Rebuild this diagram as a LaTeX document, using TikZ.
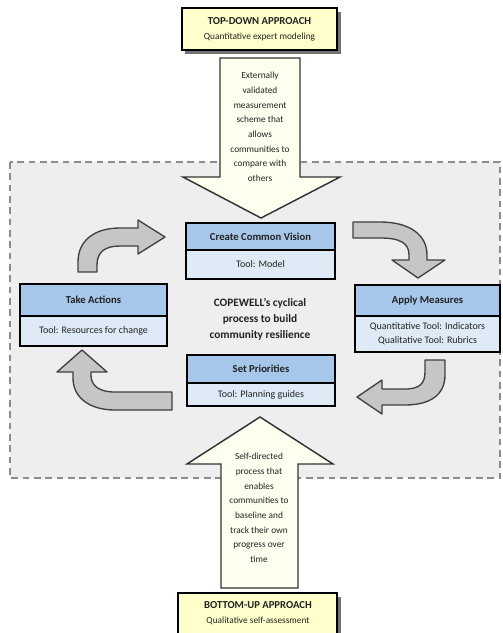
\documentclass[tikz,border=0pt]{standalone}
\usepackage{fontspec}
\setmainfont{Carlito}
\definecolor{regionfill}{HTML}{EEEEEE}
\definecolor{regionline}{HTML}{8C8C8C}
\definecolor{approachfill}{HTML}{FFFFCC}
\definecolor{bigarrowfill}{HTML}{FFFFF0}
\definecolor{hdrblue}{HTML}{A6C6EA}
\definecolor{bodyblue}{HTML}{DEEBF7}
\definecolor{cyclegray}{HTML}{C6C6C6}
\definecolor{txt}{HTML}{222222}
\begin{document}
\begin{tikzpicture}[x=0.75pt,y=-0.75pt,
  region/.style={fill=regionfill,draw=regionline,dashed,line width=1.1pt,dash pattern=on 5pt off 3.5pt},
  approachbox/.style={fill=approachfill,draw=black,line width=2.1pt},
  shadowbox/.style={fill=black!55},
  bigarrow/.style={fill=bigarrowfill,draw=black!80,line width=1.1pt,line join=miter},
  cyclearrow/.style={fill=cyclegray,draw=black!75,line width=1pt,line join=round},
  hdr/.style={fill=hdrblue},
  bdy/.style={fill=bodyblue},
  boxline/.style={draw=black,line width=1.8pt},
  divline/.style={draw=black,line width=1.1pt},
  arrowtext/.style={font=\fontsize{7}{11}\selectfont,align=center,inner sep=0pt,text=txt},
  hdrtext/.style={font=\fontsize{8}{10}\selectfont\bfseries,inner sep=0pt,text=txt},
  bodytext/.style={font=\fontsize{7.5}{10.5}\selectfont,align=center,inner sep=0pt,text=txt},
  apptitle/.style={font=\fontsize{8}{10}\selectfont\bfseries,inner sep=0pt,text=txt},
  appsub/.style={font=\fontsize{7}{9}\selectfont,inner sep=0pt,text=txt},
  centertext/.style={font=\fontsize{8.5}{12}\selectfont\bfseries,align=center,inner sep=0pt,text=txt}]
\clip (0,0) rectangle (503,633);
\fill[white] (0,0) rectangle (503,633);

% dashed region
\draw[region] (10,162) rectangle (500,478);

% top approach box
\fill[shadowbox] (185,12) rectangle (341,54);
\draw[approachbox] (182,8) rectangle (337,50);
\node[apptitle] (topT) at (259.5,21) {TOP-DOWN APPROACH};
\node[appsub] (topS) at (259.5,37) {Quantitative expert modeling};

% top big arrow
\draw[bigarrow] (220,58) -- (300,58) -- (300,177) -- (340,177) -- (261,218) -- (183,177) -- (220,177) -- cycle;
\node[arrowtext] (topA) at (260,127) {Externally\\validated\\measurement\\scheme that\\allows\\communities to\\compare with\\others};

% bottom big arrow
\draw[bigarrow] (221,588) -- (221,464) -- (187,464) -- (260,417) -- (333,464) -- (298,464) -- (298,588) -- cycle;
\node[arrowtext] (botA) at (259,508) {Self-directed\\process that\\enables\\communities to\\baseline and\\track their own\\progress over\\time};

% bottom approach box
\fill[shadowbox] (181,597) rectangle (341,640);
\draw[approachbox] (178,593) rectangle (337,640);
\node[apptitle] (botT) at (258,605) {BOTTOM-UP APPROACH};
\node[appsub] (botS) at (258,621) {Qualitative self-assessment};

% Create Common Vision
\fill[hdr] (186,223) rectangle (335,250);
\fill[bdy] (186,250) rectangle (335,279);
\draw[divline] (186,250) -- (335,250);
\draw[boxline] (186,223) rectangle (335,279);
\node[hdrtext] (ccvH) at (260.5,237) {Create Common Vision};
\node[bodytext] (ccvB) at (260.5,264.5) {Tool: Model};

% Take Actions
\fill[hdr] (20,284) rectangle (167,316);
\fill[bdy] (20,316) rectangle (167,346);
\draw[divline] (20,316) -- (167,316);
\draw[boxline] (20,284) rectangle (167,346);
\node[hdrtext] (taH) at (93.5,300) {Take Actions};
\node[bodytext] (taB) at (93.5,331) {Tool: Resources for change};

% Apply Measures
\fill[hdr] (355,285) rectangle (500,316);
\fill[bdy] (355,316) rectangle (500,352);
\draw[divline] (355,316) -- (500,316);
\draw[boxline] (355,285) rectangle (500,352);
\node[hdrtext] (amH) at (427.5,300.5) {Apply Measures};
\node[bodytext] (amB) at (427.5,334) {Quantitative Tool: Indicators\\Qualitative Tool: Rubrics};

% Set Priorities
\fill[hdr] (187,355) rectangle (335,383);
\fill[bdy] (187,383) rectangle (335,406);
\draw[divline] (187,383) -- (335,383);
\draw[boxline] (187,355) rectangle (335,406);
\node[hdrtext] (spH) at (261,369) {Set Priorities};
\node[bodytext] (spB) at (261,394.5) {Tool: Planning guides};

% centre text
\node[centertext] (centre) at (260,319) {COPEWELL's cyclical\\process to build\\community resilience};

% cyclic curved arrows
% top-left: up then right
\draw[cyclearrow] (78,272) -- (78,262) .. controls (78,240) and (95,228) .. (120,228) -- (138,228) -- (138,220) -- (165,237) -- (138,254) -- (138,246) -- (120,246) .. controls (105,246) and (97,252) .. (97,265) -- (97,272) -- cycle;
% top-right: right then down
\draw[cyclearrow] (353,222) -- (380,222) .. controls (410,222) and (427,235) .. (427,255) -- (427,260) -- (445,260) -- (418,278) -- (392,260) -- (409,260) -- (409,255) .. controls (409,243) and (400,238) .. (380,238) -- (353,238) -- cycle;
% bottom-right: down then left
\draw[cyclearrow] (425,360) -- (445,360) -- (445,375) .. controls (445,395) and (430,405) .. (405,405) -- (382,405) -- (382,414) -- (357,397) -- (382,380) -- (382,389) -- (405,389) .. controls (420,389) and (425,383) .. (425,372) -- cycle;
% bottom-left: left then up
\draw[cyclearrow] (172,392) -- (115,392) .. controls (98,392) and (91,385) .. (91,375) -- (91,372) -- (107,372) -- (82,350) -- (57,372) -- (73,372) -- (73,378) .. controls (73,398) and (90,410) .. (115,410) -- (172,410) -- cycle;
\end{tikzpicture}
\end{document}
